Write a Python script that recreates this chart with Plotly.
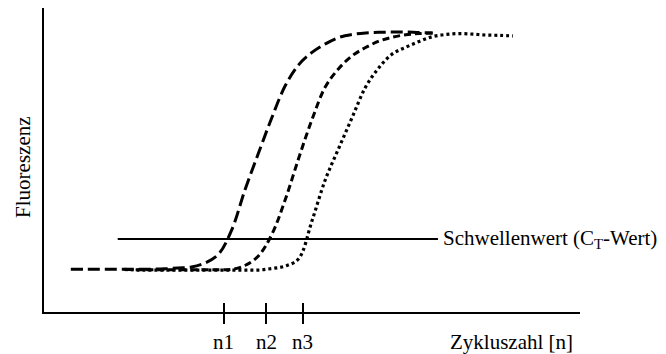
import plotly.graph_objects as go

# Amplification curves (fluorescence in % of axis height per PCR cycle)
cycles_a = list(range(2, 30))
fluor_a = [14.1, 14.1, 14.1, 14.1, 14.1, 14.1, 14.1, 14.2, 14.5, 14.8,
           16.1, 18.9, 26.9, 40.2, 52.2, 63.9, 74.4, 81.3, 85.4, 88.2,
           90.3, 91.3, 91.8, 92.0, 92.1, 92.1, 91.9, 91.8]

cycles_b = list(range(6, 30))
fluor_b = [14.0, 13.9, 13.9, 13.9, 13.9, 13.9, 13.9, 13.9, 14.0, 15.3,
           18.4, 25.5, 36.9, 50.5, 63.3, 74.1, 80.1, 84.3, 87.0, 89.1,
           90.4, 91.2, 91.6, 91.8]

cycles_c = list(range(6, 36))
fluor_c = [14.0, 13.8, 13.8, 13.8, 13.8, 13.8, 13.8, 13.8, 13.8, 13.8,
           13.8, 14.3, 15.1, 17.5, 30.0, 43.6, 53.9, 64.0, 74.0, 80.4,
           84.9, 87.1, 89.0, 90.6, 91.3, 91.6, 91.4, 91.1, 91.0, 90.8]

# Threshold line
threshold_value = 24.0
threshold_cycles = [5.5, 29.4]

# Ct positions on the cycle axis
ct_values = [13.4, 16.6, 19.3]
ct_labels = ["n1", "n2", "n3"]

FONT = "Liberation Serif, Times New Roman, serif"

fig = go.Figure()

fig.add_trace(go.Scatter(
    x=cycles_a, y=fluor_a, mode="lines", line_shape="spline",
    line=dict(color="black", width=3, dash="12px,5px")))
fig.add_trace(go.Scatter(
    x=cycles_b, y=fluor_b, mode="lines", line_shape="spline",
    line=dict(color="black", width=3, dash="7px,4px")))
fig.add_trace(go.Scatter(
    x=cycles_c, y=fluor_c, mode="lines", line_shape="spline",
    line=dict(color="black", width=3.2, dash="3px,3px")))

fig.add_trace(go.Scatter(
    x=threshold_cycles, y=[threshold_value] * 2, mode="lines",
    xaxis="x2", line=dict(color="black", width=2)))

fig.add_annotation(
    x=threshold_cycles[-1], y=threshold_value, xref="x", yref="y",
    text="Schwellenwert (C<sub>T</sub>-Wert)", showarrow=False,
    xanchor="left", yanchor="middle", xshift=3,
    font=dict(family=FONT, size=21, color="black"))

fig.add_annotation(
    x=1, y=0, xref="paper", yref="paper", text="Zykluszahl [n]",
    showarrow=False, xanchor="right", yanchor="middle", xshift=-5, yshift=-30,
    font=dict(family=FONT, size=21, color="black"))

fig.add_annotation(
    x=0, y=0.474, xref="paper", yref="paper", text="Fluoreszenz",
    showarrow=False, textangle=-90, xanchor="center", yanchor="middle",
    xshift=-21, font=dict(family=FONT, size=21, color="black"))

fig.update_layout(
    width=666, height=354,
    margin=dict(l=44, r=86, t=8, b=42, autoexpand=False),
    paper_bgcolor="white", plot_bgcolor="white",
    showlegend=False,
    font=dict(family=FONT, size=21, color="black"),
    xaxis=dict(
        range=[0, 40], showline=True, linecolor="black", linewidth=2,
        showgrid=False, zeroline=False, automargin=False,
        tickmode="array", tickvals=ct_values, ticktext=ct_labels,
        ticks="outside", ticklen=10, tickwidth=2, tickcolor="black",
        ticklabelstandoff=0,
        tickfont=dict(family=FONT, size=21, color="black")),
    xaxis2=dict(
        range=[0, 40], overlaying="x", anchor="y", side="bottom",
        showline=False, showgrid=False, zeroline=False, automargin=False,
        tickmode="array", tickvals=ct_values, showticklabels=False,
        ticks="inside", ticklen=9, tickwidth=2, tickcolor="black"),
    yaxis=dict(
        range=[0, 100], showline=True, linecolor="black", linewidth=2,
        showgrid=False, zeroline=False, showticklabels=False, ticks="",
        automargin=False),
)

fig.write_html("out.html")
